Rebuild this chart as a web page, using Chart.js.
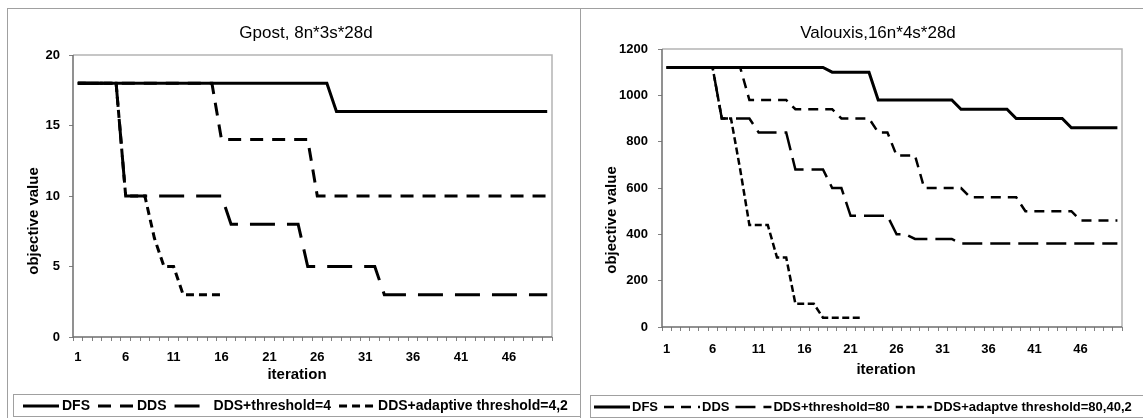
<!DOCTYPE html>
<html>
<head>
<meta charset="utf-8">
<title>Gpost / Valouxis objective value per iteration</title>
<script src="https://cdn.jsdelivr.net/npm/chart.js@4.4.1/dist/chart.umd.min.js"></script>
<style>
  html, body { margin: 0; padding: 0; background: #fff; }
  body { width: 1143px; height: 418px; position: relative; overflow: hidden; }
  #frame { position: absolute; left: 7px; top: 8px; width: 1140px; height: 420px;
           border-top: 1px solid #a0a0a0; border-left: 1px solid #a0a0a0; }
  #divider { position: absolute; left: 580px; top: 8px; width: 1px; height: 420px; background: #a0a0a0; }
  canvas { position: absolute; top: 9px; }
  #gpostChart { left: 8px; }
  #valouxisChart { left: 581px; }
</style>
</head>
<body>
<div id="frame"></div>
<div id="divider"></div>
<canvas id="gpostChart" width="572" height="409"></canvas>
<canvas id="valouxisChart" width="562" height="409"></canvas>
<script>
const FONT = '"Liberation Sans", Arial, sans-serif';

// iteration axis, labels shown every 5th
const iterations = [1,2,3,4,5,6,7,8,9,10, 11,12,13,14,15,16,17,18,19,20,
                    21,22,23,24,25,26,27,28,29,30, 31,32,33,34,35,36,37,38,39,40,
                    41,42,43,44,45,46,47,48,49,50];
const xTickLabels = ['1', '6', '11', '16', '21', '26', '31', '36', '41', '46'];

// Gpost, 8n*3s*28d
const gpostYTicks = [0, 5, 10, 15, 20];
const gpostDFS = [18,18,18,18,18,18,18,18,18,18, 18,18,18,18,18,18,18,18,18,18,
                  18,18,18,18,18,18,18,16,16,16, 16,16,16,16,16,16,16,16,16,16,
                  16,16,16,16,16,16,16,16,16,16];
const gpostDDS = [18,18,18,18,18,18,18,18,18,18, 18,18,18,18,18,14,14,14,14,14,
                  14,14,14,14,14,10,10,10,10,10, 10,10,10,10,10,10,10,10,10,10,
                  10,10,10,10,10,10,10,10,10,10];
const gpostThreshold = [18,18,18,18,18,10,10,10,10,10, 10,10,10,10,10,10,8,8,8,8,
                        8,8,8,8,5,5,5,5,5,5, 5,5,3,3,3,3,3,3,3,3,
                        3,3,3,3,3,3,3,3,3,3];
const gpostAdaptive = [18,18,18,18,18,10,10,10,7,5, 5,3,3,3,3,3,null,null,null,null,
                       null,null,null,null,null,null,null,null,null,null,
                       null,null,null,null,null,null,null,null,null,null,
                       null,null,null,null,null,null,null,null,null,null];

// Valouxis,16n*4s*28d
const valYTicks = [0, 200, 400, 600, 800, 1000, 1200];
const valDFS = [1120,1120,1120,1120,1120,1120,1120,1120,1120,1120,
                1120,1120,1120,1120,1120,1120,1120,1120,1100,1100,
                1100,1100,1100,980,980,980,980,980,980,980,
                980,980,940,940,940,940,940,940,900,900,
                900,900,900,900,860,860,860,860,860,860];
const valDDS = [1120,1120,1120,1120,1120,1120,1120,1120,1120,980,
                980,980,980,980,940,940,940,940,940,900,
                900,900,900,840,840,740,740,740,600,600,
                600,600,600,560,560,560,560,560,560,500,
                500,500,500,500,500,460,460,460,460,460];
const valThreshold = [1120,1120,1120,1120,1120,1120,900,900,900,900,
                      840,840,840,840,680,680,680,680,600,600,
                      480,480,480,480,480,400,400,380,380,380,
                      380,380,360,360,360,360,360,360,360,360,
                      360,360,360,360,360,360,360,360,360,360];
const valAdaptive = [1120,1120,1120,1120,1120,1120,900,900,680,440,
                     440,440,300,300,100,100,100,40,40,40,
                     40,40,null,null,null,null,null,null,null,null,
                     null,null,null,null,null,null,null,null,null,null,
                     null,null,null,null,null,null,null,null,null,null];

// light/dark frame round the plot area, Excel style
const plotFrame = {
    id: 'plotFrame',
    beforeDatasetsDraw(chart) {
        const { ctx, chartArea: a } = chart;
        ctx.save();
        ctx.lineWidth = 1.5;
        ctx.strokeStyle = '#b4b4b4';
        ctx.beginPath();
        ctx.moveTo(a.left, a.top);
        ctx.lineTo(a.right, a.top);
        ctx.lineTo(a.right, a.bottom);
        ctx.stroke();
        ctx.strokeStyle = '#6e6e6e';
        ctx.beginPath();
        ctx.moveTo(a.left, a.top);
        ctx.lineTo(a.left, a.bottom);
        ctx.lineTo(a.right, a.bottom);
        ctx.stroke();
        ctx.restore();
    }
};

// chart title and axis captions, placed off the plot centre like the original
const captions = {
    id: 'captions',
    afterDraw(chart, args, opts) {
        const { ctx, chartArea: a } = chart;
        const cx = (a.left + a.right) / 2;
        ctx.save();
        ctx.fillStyle = '#000';
        ctx.textAlign = 'center';
        ctx.textBaseline = 'middle';
        ctx.font = opts.titleFont;
        ctx.fillText(opts.title.text, cx + opts.title.dx, a.top + opts.title.dy);
        ctx.font = opts.font;
        ctx.fillText(opts.x.text, cx + opts.x.dx, a.bottom + opts.x.dy);
        ctx.translate(a.left + opts.y.dx, (a.top + a.bottom) / 2 + opts.y.dy);
        ctx.rotate(-Math.PI / 2);
        ctx.fillText(opts.y.text, 0, 0);
        ctx.restore();
    }
};

// one-row boxed legend that runs off the right edge
const boxLegend = {
    id: 'boxLegend',
    afterDraw(chart, args, opts) {
        const { ctx } = chart;
        ctx.save();
        ctx.strokeStyle = '#a0a0a0';
        ctx.lineWidth = 1;
        ctx.strokeRect(opts.left + 0.5, opts.top + 0.5, chart.width, opts.height);
        ctx.font = opts.font;
        ctx.textBaseline = 'middle';
        ctx.fillStyle = '#000';
        const y = opts.top + opts.height / 2 + 1;
        let x = opts.left + opts.inset;
        chart.data.datasets.forEach(ds => {
            ctx.beginPath();
            ctx.setLineDash(ds.borderDash || []);
            ctx.lineWidth = ds.borderWidth;
            ctx.strokeStyle = ds.borderColor;
            ctx.moveTo(x, y);
            ctx.lineTo(x + opts.sample, y);
            ctx.stroke();
            x += opts.sample + opts.textGap;
            ctx.fillText(ds.label, x, y);
            x += ctx.measureText(ds.label).width + opts.itemGap;
        });
        ctx.restore();
    }
};

function lineSet(label, data, dash, width) {
    return {
        label: label,
        data: data,
        borderColor: '#000',
        backgroundColor: '#000',
        borderWidth: width,
        borderDash: dash,
        borderCapStyle: 'butt',
        pointRadius: 0,
        pointHoverRadius: 0,
        tension: 0,
        fill: false,
        spanGaps: false
    };
}

function buildChart(id, o) {
    const tickFont = { family: FONT, size: 13, weight: 'bold' };
    return new Chart(document.getElementById(id), {
        type: 'line',
        data: { labels: iterations, datasets: o.datasets },
        options: {
            responsive: false,
            animation: false,
            events: [],
            layout: { padding: o.padding },
            scales: {
                x: {
                    type: 'category',
                    offset: true,
                    grid: { display: true, offset: true, drawOnChartArea: false, tickLength: 4, color: '#808080' },
                    border: { display: false },
                    ticks: {
                        autoSkip: false, maxRotation: 0, minRotation: 0,
                        padding: o.xPad, color: '#000', font: tickFont,
                        callback: function (v) {
                            const l = String(this.getLabelForValue(v));
                            return xTickLabels.includes(l) ? l : '';
                        }
                    },
                    afterFit: s => { s.height = o.xHeight; }
                },
                y: {
                    min: o.yTicks[0],
                    max: o.yTicks[o.yTicks.length - 1],
                    afterBuildTicks: s => { s.ticks = o.yTicks.map(v => ({ value: v })); },
                    grid: { drawOnChartArea: false, tickLength: 4, color: '#808080' },
                    border: { display: false },
                    ticks: { padding: o.yPad, color: '#000', font: tickFont, callback: v => String(v) },
                    afterFit: s => { s.width = o.yWidth; }
                }
            },
            plugins: {
                legend: { display: false },
                tooltip: { enabled: false },
                title: { display: false },
                captions: {
                    titleFont: '17px ' + FONT,
                    font: 'bold 15px ' + FONT,
                    title: { text: o.title, dx: o.titlePos[0], dy: o.titlePos[1] },
                    x: { text: 'iteration', dx: o.xCap[0], dy: o.xCap[1] },
                    y: { text: 'objective value', dx: o.yCap[0], dy: o.yCap[1] }
                },
                boxLegend: o.legend
            }
        },
        plugins: [plotFrame, captions, boxLegend]
    });
}

buildChart('gpostChart', {
    title: 'Gpost, 8n*3s*28d',
    titlePos: [-6.5, -22],
    padding: { left: 0, right: 28, top: 46, bottom: 31 },
    yWidth: 65, yPad: 9, xHeight: 50, xPad: 9,
    yTicks: gpostYTicks,
    xCap: [-15.5, 38], yCap: [-39, 25],
    legend: { font: 'bold 14px ' + FONT, left: 5, top: 385, height: 22, inset: 10, sample: 36, textGap: 3, itemGap: 8 },
    datasets: [
        lineSet('DFS', gpostDFS, [], 3),
        lineSet('DDS', gpostDDS, [13, 9], 3),
        lineSet('DDS+threshold=4', gpostThreshold, [25, 12], 3),
        lineSet('DDS+adaptive threshold=4,2', gpostAdaptive, [8, 5], 3)
    ]
});

buildChart('valouxisChart', {
    title: 'Valouxis,16n*4s*28d',
    titlePos: [-14, -16],
    padding: { left: 0, right: 21, top: 40, bottom: 31 },
    yWidth: 81, yPad: 10, xHeight: 60, xPad: 11,
    yTicks: valYTicks,
    xCap: [-6, 43], yCap: [-50, 32],
    legend: { font: 'bold 13px ' + FONT, left: 9, top: 386, height: 22, inset: 4, sample: 36, textGap: 2, itemGap: 6 },
    datasets: [
        lineSet('DFS', valDFS, [], 3),
        lineSet('DDS', valDDS, [10, 7], 2.5),
        lineSet('DDS+threshold=80', valThreshold, [20, 8], 2.5),
        lineSet('DDS+adaptve threshold=80,40,2', valAdaptive, [7, 3.5], 2.5)
    ]
});
</script>
</body>
</html>
